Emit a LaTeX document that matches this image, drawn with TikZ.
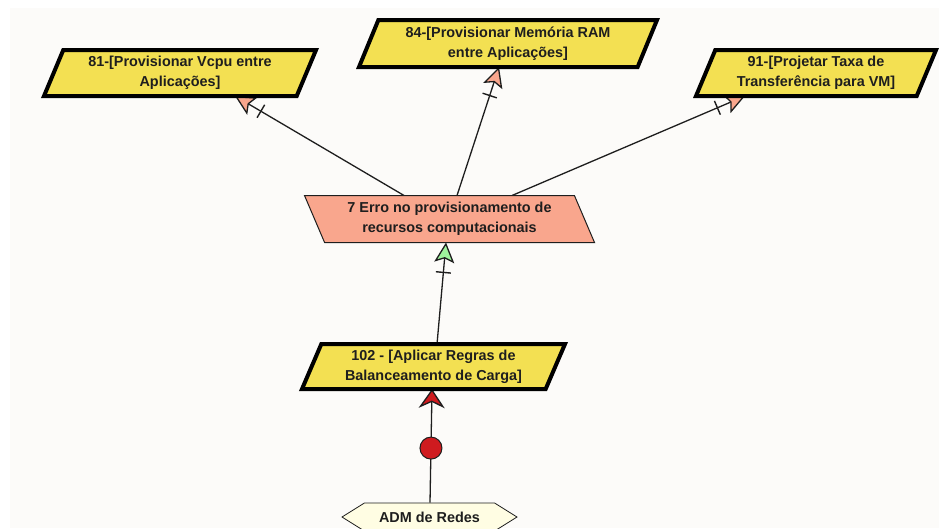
\documentclass[tikz,border=0pt]{standalone}
\usepackage{fontspec}
\setmainfont{Liberation Sans}
\usetikzlibrary{shapes.geometric,shapes.symbols,arrows.meta,decorations.markings}

\definecolor{boxyellow}{HTML}{F3E052}
\definecolor{errsalmon}{HTML}{F9A68D}
\definecolor{tipgreen}{HTML}{9EF29C}
\definecolor{tipred}{HTML}{CF1B1F}
\definecolor{actorcream}{HTML}{FFFDE3}
\definecolor{inkdark}{HTML}{1E1E1E}
\definecolor{paper}{HTML}{FCFBF9}

\pgfdeclarelayer{paperlayer}
\pgfdeclarelayer{links}
\pgfsetlayers{paperlayer,links,main}

\begin{document}
\begin{tikzpicture}[x=1pt,y=-1pt,
  txt/.style={font=\fontsize{14.4}{20}\selectfont\bfseries, text=inkdark, align=center, inner sep=0pt},
  goalbox/.style={txt, trapezium, trapezium left angle=60, trapezium right angle=120,
    trapezium stretches body, draw=black, line width=4pt, outer sep=0pt, fill=boxyellow},
  errbox/.style={txt, trapezium, trapezium left angle=121, trapezium right angle=59,
    trapezium stretches body, draw=inkdark, line width=1pt, outer sep=0pt, fill=errsalmon},
  actor/.style={txt, signal, signal to=east and west, signal pointer angle=64,
    draw=inkdark, line width=0.8pt, fill=actorcream},
  link/.style={draw=inkdark, line width=1.3pt},
  ticked/.style={postaction={decorate}, decoration={markings,
    mark=at position -30pt with {\draw[-, inkdark, line width=1.4pt] (0,-7.5pt) -- (0,7.5pt);}}},
  ball/.style={circle, fill=tipred, draw=inkdark, line width=1pt, minimum size=22pt, inner sep=0pt}
]
\useasboundingbox (0,0) rectangle (939,528);

\begin{pgfonlayer}{paperlayer}
  \fill[white] (0,0) rectangle (939,528);
  \fill[paper] (10,8) rectangle (939,528);
\end{pgfonlayer}

% goals and tasks
\node[goalbox, minimum width=272pt, minimum height=46pt] (n81) at (180,73)
  {81-[Provisionar Vcpu entre\\Aplicações]};
\node[goalbox, minimum width=298pt, minimum height=47pt] (n84) at (508,43.5)
  {84-[Provisionar Memória RAM\\entre Aplicações]};
\node[goalbox, minimum width=240pt, minimum height=46pt] (n91) at (816,73)
  {91-[Projetar Taxa de\\Transferência para VM]};
\node[errbox, minimum width=290pt, minimum height=47pt] (n7) at (449.5,219)
  {7 Erro no provisionamento de\\recursos computacionais};
\node[goalbox, minimum width=263pt, minimum height=45pt] (n102) at (433.5,366.5)
  {102 - [Aplicar Regras de\\Balanceamento de Carga]};
\node[actor, minimum width=175pt, minimum height=28pt] (adm) at (429.5,517)
  {ADM de Redes};

% links
\begin{pgfonlayer}{links}
  \draw[link, -{Stealth[length=19pt, width=26pt, inset=6pt, fill=tipred]}]
    ([xshift=0.5pt]adm.north) -- node[ball, pos=0.48] (redball) {} ([xshift=-1.5pt]n102.south);
  \draw[link, ticked, -{Stealth[length=20pt, width=20pt, inset=4pt, fill=tipgreen]}]
    ([xshift=3.5pt]n102.north) -- ([xshift=-3.5pt]n7.south);
  \draw[link, ticked, -{Stealth[length=20pt, width=20pt, inset=4pt, fill=errsalmon]}]
    ([xshift=-45.5pt]n7.north) -- ([xshift=55pt]n81.south);
  \draw[link, ticked, -{Stealth[length=20pt, width=20pt, inset=4pt, fill=errsalmon]}]
    ([xshift=7.5pt]n7.north) -- ([xshift=-9pt]n84.south);
  \draw[link, ticked, -{Stealth[length=20pt, width=20pt, inset=4pt, fill=errsalmon]}]
    ([xshift=62.5pt]n7.north) -- ([xshift=-71pt]n91.south);
\end{pgfonlayer}
\end{tikzpicture}
\end{document}
